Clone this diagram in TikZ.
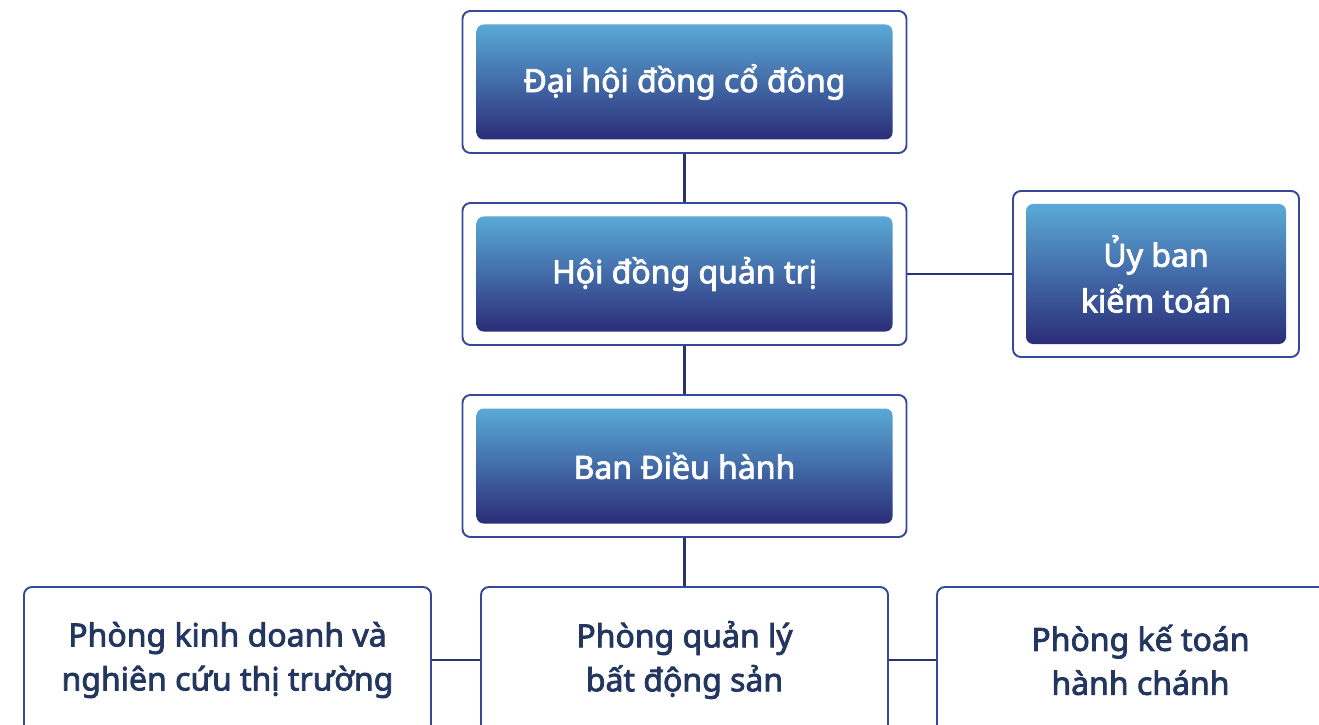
\documentclass[tikz,border=0pt]{standalone}
\usepackage{fontspec}
\setmainfont{Noto Sans}
\newfontfamily\boxfont{Noto Sans}[FakeBold=2.5]
\definecolor{navy}{HTML}{2B2D79}
\definecolor{sky}{HTML}{5AA9D6}
\definecolor{rim}{HTML}{34499A}
\definecolor{ink}{HTML}{22365F}
\definecolor{wire}{HTML}{2A3372}
\begin{document}
\begin{tikzpicture}[
    outerbox/.style={draw=rim, line width=1.1pt, rounded corners=4.5pt, fill=white,
      inner sep=0pt, minimum width=8.88cm, minimum height=2.84cm},
    bluebox/.style={rounded corners=4pt, top color=sky, bottom color=navy, text=white,
      inner sep=0pt, minimum width=8.32cm, minimum height=2.30cm, align=center,
      font=\boxfont\fontsize{18.2}{26}\selectfont},
    whitebox/.style={outerbox, minimum width=8.14cm, minimum height=2.92cm, text=ink,
      align=center, font=\boxfont\fontsize{18.2}{25}\selectfont},
    link/.style={draw=wire, line width=1.3pt}
  ]
  \useasboundingbox (0,0) rectangle (26.38,14.48);
  \clip (0,0) rectangle (26.38,14.48);
  % frames
  \path
    (13.69,12.84) node[outerbox] (dhf){}
    (13.69,9.00) node[outerbox] (hdf){}
    (23.12,9.00) node[outerbox, minimum width=5.72cm, minimum height=3.32cm] (ubf){}
    (13.69,5.16) node[outerbox] (bdf){};
  % blue boxes
  \path
    (13.69,12.84) node[bluebox] (dh){Đại hội đồng cổ đông}
    (13.69,9.00) node[bluebox] (hd){Hội đồng quản trị}
    (23.12,9.00) node[bluebox, minimum width=5.2cm, minimum height=2.8cm] (ub){Ủy ban\\kiểm toán}
    (13.69,5.16) node[bluebox] (bd){Ban Điều hành};
  % departments
  \path
    (4.55,1.28) node[whitebox] (kd){Phòng kinh doanh và\\nghiên cứu thị trường}
    (13.69,1.28) node[whitebox] (ql){Phòng quản lý\\bất động sản}
    (22.81,1.28) node[whitebox] (kt){Phòng kế toán\\hành chánh};
  \begin{scope}[link]
    \draw (dhf.south) to (hdf.north);
    \draw (hdf.east) to (ubf.west);
    \draw (hdf.south) to (bdf.north);
    \draw (bdf.south) to (ql.north);
    \draw (kd.east) to (ql.west);
    \draw (ql.east) to (kt.west);
  \end{scope}
\end{tikzpicture}
\end{document}
